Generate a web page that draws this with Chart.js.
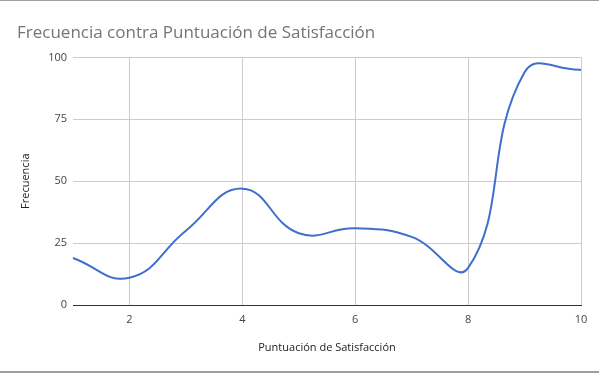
<!DOCTYPE html>
<html lang="es">
<head>
    <meta charset="UTF-8">
    <script src="https://cdn.jsdelivr.net/npm/chart.js"></script>
    <style>
        html, body { margin: 0; padding: 0; background: #fff; }
        .box {
            width: 599px; height: 373px; box-sizing: border-box;
            border-top: 1px solid #9e9e9e; border-bottom: 2px solid #9e9e9e;
        }
        canvas { display: block; }
    </style>
    <title>Frecuencia contra Puntuación de Satisfacción</title>
</head>
<body>
    <div class="box">
        <canvas id="myChart" width="599" height="370"></canvas>
    </div>

    <script>
        // datos
        const puntuacion = [1, 2, 3, 4, 5, 6, 7, 8, 9, 10];
        const frecuencia = [19, 11, 30, 47, 29, 31, 27.5, 15, 94, 95];
        const xTicks = [2, 4, 6, 8, 10];
        const yTicks = [0, 25, 50, 75, 100];

        const fontFam = "'Open Sans', 'Noto Sans', sans-serif";

        const puntos = puntuacion.map((p, i) => ({ x: p, y: frecuencia[i] }));

        const config = {
            type: 'line',
            data: {
                datasets: [{
                    label: 'Frecuencia',
                    data: puntos,
                    borderColor: '#3f6fcc',
                    borderWidth: 2,
                    pointRadius: 0,
                    fill: false,
                    tension: 0.45,
                    clip: 6
                }]
            },
            options: {
                responsive: false,
                animation: false,
                elements: { line: { capBezierPoints: false } },
                layout: {
                    padding: { left: 17, right: 18, top: 0, bottom: 0 }
                },
                plugins: {
                    legend: { display: false },
                    tooltip: { enabled: false },
                    title: {
                        display: true,
                        text: 'Frecuencia contra Puntuación de Satisfacción',
                        align: 'start',
                        color: '#757575',
                        font: { family: fontFam, size: 17, weight: 'normal' },
                        padding: { top: 22, bottom: 14 }
                    }
                },
                scales: {
                    x: {
                        type: 'linear',
                        min: 1,
                        max: 10,
                        afterBuildTicks: (scale) => {
                            scale.ticks = xTicks.map(v => ({ value: v }));
                        },
                        afterFit: (scale) => { scale.height = 66; },
                        grid: { color: '#cccccc', drawTicks: false },
                        border: { display: true, color: '#333333', width: 1 },
                        ticks: {
                            color: '#444444',
                            padding: 8,
                            font: { family: fontFam, size: 11 }
                        },
                        title: {
                            display: true,
                            text: 'Puntuación de Satisfacción',
                            color: '#222222',
                            font: { family: fontFam, size: 11 },
                            padding: { top: 0, bottom: 17 }
                        }
                    },
                    y: {
                        min: 0,
                        max: 100,
                        afterBuildTicks: (scale) => {
                            scale.ticks = yTicks.map(v => ({ value: v }));
                        },
                        afterFit: (scale) => { scale.width = 56; },
                        grid: { color: '#cccccc', drawTicks: false },
                        border: { display: false },
                        ticks: {
                            color: '#444444',
                            padding: 6,
                            font: { family: fontFam, size: 11 }
                        },
                        title: {
                            display: true,
                            text: 'Frecuencia',
                            color: '#222222',
                            font: { family: fontFam, size: 11 },
                            padding: { bottom: 0, top: 2 }
                        }
                    }
                }
            }
        };

        const myChart = new Chart(document.getElementById('myChart').getContext('2d'), config);
    </script>
</body>
</html>
